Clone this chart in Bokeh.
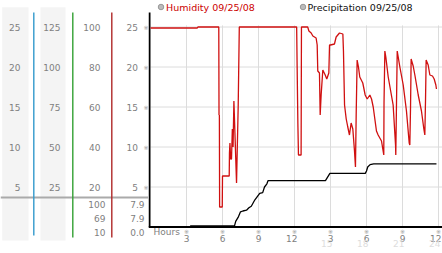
from bokeh.plotting import figure
from bokeh.layouts import row
from bokeh.models import Range1d
from bokeh.core.properties import value
from bokeh.embed import file_html
from bokeh.resources import INLINE

# ---------------- data ----------------
hum_hours = [0.0, 3.9, 3.95, 5.69, 5.71, 5.74, 5.76, 5.98, 6.0, 6.56, 6.58, 6.62, 6.68, 6.75,
             6.82, 6.88, 6.95, 7.17, 7.31, 7.4, 12.18, 12.22, 12.28, 12.33, 12.55, 12.58,
             13.1, 13.2, 13.39, 13.53, 13.8, 13.89, 13.94, 14.08, 14.14, 14.22, 14.36, 14.56,
             14.69, 14.86, 14.92, 15.0, 15.33, 15.47, 15.61, 15.75, 16.03, 16.08, 16.17,
             16.31, 16.44, 16.58, 16.72, 16.86, 17.0, 17.08, 17.14, 17.22, 17.33, 17.44,
             17.69, 17.89, 18.06, 18.28, 18.42, 18.56, 18.83, 18.97, 19.25, 19.44, 19.46,
             19.53, 19.61, 19.81, 20.0, 20.22, 20.42, 20.44, 20.5, 20.56, 20.78, 21.06,
             21.33, 21.56, 21.61, 21.67, 21.72, 21.89, 22.03, 22.31, 22.58, 22.78, 22.86,
             22.92, 22.97, 23.14, 23.28, 23.5, 23.64, 23.78, 23.83]
hum_vals = [99.5, 99.5, 100, 100, 56, 56, 10, 10, 25.5, 25.5, 37, 42, 34, 34,
            49, 40, 63, 22, 61, 100, 100, 80, 52, 36, 36, 100,
            100, 98, 97, 95.5, 94.5, 91, 78, 77, 56, 66, 78.5, 76,
            74, 77, 91, 91, 91.5, 95, 96, 97, 96.5, 88, 61,
            54, 50, 46, 52, 49, 38, 30, 56, 83.5, 80, 75,
            72, 66, 64, 66, 64, 60, 48, 46, 43, 36, 62,
            88, 85, 75, 68.5, 61, 41, 36, 62, 88, 80, 71,
            58, 42, 41, 60, 84, 80.5, 76, 66, 58, 49, 46,
            64, 83.5, 81, 76, 75.5, 74, 71, 69]

precip_hours = [0.0, 3.3, 3.35, 7.0, 7.1, 7.3, 7.5, 7.7, 8.0, 8.2, 8.4, 8.55, 8.7, 8.9,
                9.1, 9.35, 9.5, 9.7, 9.8, 14.58, 14.95, 17.9, 18.0, 18.1, 18.3, 18.6, 23.83]
precip_vals = [0.0, 0.0, 0.15, 0.15, 0.7, 1.2, 1.9, 2.0, 2.1, 2.4, 2.6, 3.0, 3.4, 3.8,
               4.2, 4.3, 5.0, 5.4, 5.8, 5.8, 6.7, 6.7, 7.0, 7.5, 7.8, 7.9, 7.9]

y_ticks = [5, 10, 15, 20, 25]
col_a_labels = ["5", "10", "15", "20", "25"]
col_b_labels = ["25", "50", "75", "100", "125"]
hum_ticks = [20, 40, 60, 80, 100]
hum_labels = ["20", "40", "60", "80", "100"]
precip_labels = ["5", "10", "15", "20", "25"]
hum_summary = ["100", "69", "10"]        # max, current, min
precip_summary = ["7.9", "7.9", "0.0"]   # max, current, min
x_ticks = [3, 6, 9, 12, 15, 18, 21, 24]
x_labels = ["3", "6", "9", "12", "3", "6", "9", "12"]
x_ticks2 = [15, 18, 21, 24]
x_labels2 = ["15", "18", "21", "24"]
legend_labels = ["Humidity 09/25/08", "Precipitation 09/25/08"]

# ---------------- layout constants ----------------
H = 253
ZERO_PX = 226.5
PX_PER_UNIT = 8.0
def vy(px):  # pixel row -> value on the shared 0-25 scale
    return (ZERO_PX - px) / PX_PER_UNIT

yr = Range1d(vy(H), vy(0))
hum_r = Range1d(vy(H) * 4, vy(0) * 4)
FONT = value("DejaVu Sans")
GRAY_TXT = "#808080"

# ---------------- left panel ----------------
lp = figure(width=148, height=H, x_range=Range1d(0, 148), y_range=yr,
            output_backend="svg", toolbar_location=None,
            x_axis_location=None, y_axis_location=None, min_border=0,
            outline_line_color=None, background_fill_color="white")
lp.extra_y_ranges = {"hum": hum_r}
lp.xgrid.visible = False
lp.ygrid.visible = False

# light bands
lp.quad(left=[1.7, 40], right=[28, 65], top=vy(6.7), bottom=vy(240),
        fill_color="#f4f4f4", line_color=None)
# separator line
lp.segment(x0=0, x1=148, y0=vy(197), y1=vy(197), line_color="#aaaaaa", line_width=2)
# coloured axis lines
lp.segment(x0=[33.3, 72.3, 111.3], x1=[33.3, 72.3, 111.3],
           y0=vy(12), y1=[vy(235), vy(237), vy(237)],
           line_color=["#3399cc", "#33a033", "#b02828"], line_width=1.4)

txt = dict(text_font=FONT, text_font_size=value("9px"), text_color=GRAY_TXT,
           text_baseline="middle", text_align="right")
lp.text(x=[20] * 5, y=y_ticks, text=col_a_labels, **txt)
lp.text(x=[60] * 5, y=y_ticks, text=col_b_labels, **txt)
lp.text(x=[100] * 5, y=hum_ticks, text=hum_labels, y_range_name="hum", **txt)
lp.text(x=[137.5] * 5, y=y_ticks, text=precip_labels, **txt)
rows = [vy(203.7), vy(218.3), vy(232)]
lp.text(x=[105] * 3, y=rows, text=hum_summary, **txt)
lp.text(x=[144] * 3, y=rows, text=precip_summary, **txt)
lp.text(x=[145.5] * 5, y=y_ticks, text=["※"] * 5, text_font=FONT,
        text_font_size=value("6px"), text_color="#999999",
        text_baseline="middle", text_align="center")

# ---------------- main chart ----------------
p = figure(width=294, height=H, x_range=Range1d(-2 / 12, 292 / 12), y_range=yr,
           output_backend="svg", toolbar_location=None,
           x_axis_location=None, y_axis_location=None, min_border=0,
           outline_line_color=None, background_fill_color="white")
p.extra_y_ranges = {"hum": hum_r}
p.xgrid.visible = False
p.ygrid.visible = False

# grid
p.segment(x0=x_ticks, x1=x_ticks, y0=0, y1=25.2, line_color="#dcdcdc", line_width=1)
p.segment(x0=0, x1=24.4, y0=y_ticks, y1=y_ticks, line_color="#dcdcdc", line_width=1)

# axes lines
p.segment(x0=-1 / 12, x1=-1 / 12, y0=vy(12), y1=0, line_color="black", line_width=2)
p.segment(x0=-2 / 12, x1=24.4, y0=0, y1=0, line_color="black", line_width=2)

# series
p.line(precip_hours, precip_vals, line_color="black", line_width=1.3)
p.line(hum_hours, hum_vals, line_color="#d01010", line_width=1.3, y_range_name="hum")

# x-axis labels
p.text(x=x_ticks, y=vy(238), text=x_labels, text_font=FONT, text_font_size=value("9px"),
       text_color=GRAY_TXT, text_baseline="middle", text_align="right", x_offset=3)
p.text(x=x_ticks2, y=vy(242.5), text=x_labels2, text_font=FONT, text_font_size=value("9px"),
       text_color="#dddddd", text_baseline="middle", text_align="right", x_offset=2)
p.text(x=x_ticks, y=vy(231), text=["※"] * len(x_ticks), text_font=FONT,
       text_font_size=value("6px"), text_color="#999999", text_baseline="middle",
       text_align="center")
p.text(x=[0.25], y=[vy(231.5)], text=["Hours"], text_font=FONT, text_font_size=value("9px"),
       text_color=GRAY_TXT, text_baseline="middle", text_align="left")

# legend
p.scatter(x=[0.875, 12.71], y=vy(6.5), size=5.5, marker="circle",
          fill_color="#bbbbbb", line_color="#999999", line_width=1)
p.text(x=[1.3, 13.08], y=vy(6.5), text=legend_labels, text_font=FONT,
       text_font_size=value("9.5px"), text_color=["#cc0000", "#111111"],
       text_baseline="middle", text_align="left")

layout = row(lp, p)
open("out.html", "w").write(file_html(layout, INLINE))
